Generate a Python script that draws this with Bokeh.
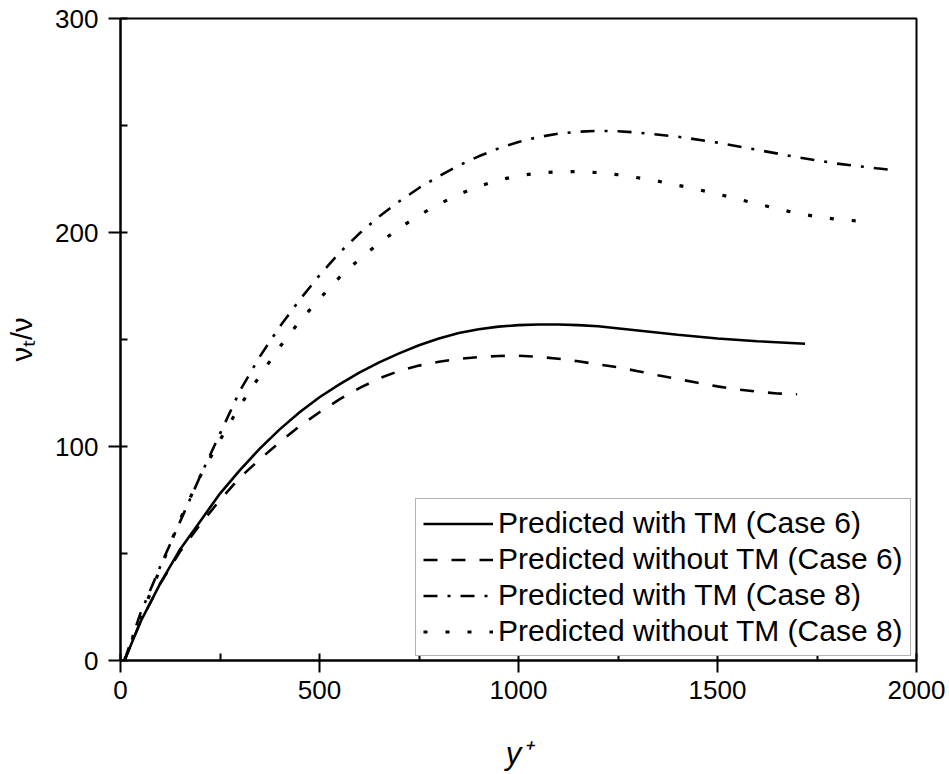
from bokeh.plotting import figure
from bokeh.models import Range1d, SingleIntervalTicker, Legend, LegendItem
from bokeh.embed import file_html
from bokeh.resources import INLINE

# ---- data ----
x_c6_tm = [10, 50, 100, 150, 200, 250, 300, 350, 400, 450, 500, 550, 600, 650, 700, 750, 800, 850, 900, 950,
           1000, 1050, 1100, 1150, 1200, 1300, 1400, 1500, 1600, 1720]
y_c6_tm = [0, 18, 36, 52, 65, 78, 89, 99, 108, 116, 123, 129, 134.5, 139.3, 143.5, 147.3, 150.5, 153, 154.8, 156,
           156.7, 157, 157, 156.7, 156.2, 154.2, 152.2, 150.5, 149.2, 148]

x_c6_no = [10, 50, 100, 150, 200, 250, 300, 350, 400, 450, 500, 550, 600, 650, 700, 750, 800, 850, 900, 950,
           1000, 1050, 1100, 1150, 1200, 1250, 1300, 1350, 1400, 1450, 1500, 1550, 1600, 1650, 1700]
y_c6_no = [0, 18, 36, 51, 63.5, 75, 85.5, 94, 102, 109.5, 116, 122, 127.3, 131.8, 135.3, 137.8, 139.6, 140.9, 141.8,
           142.3, 142.4, 141.9, 141, 139.8, 138.4, 137, 135.2, 133.3, 131.5, 129.8, 128.1, 126.7, 125.6, 124.8, 124.4]

x_c8_tm = [10, 50, 100, 150, 200, 250, 300, 350, 400, 450, 500, 550, 600, 650, 700, 750, 800, 850, 900, 950,
           1000, 1050, 1100, 1150, 1200, 1250, 1300, 1400, 1500, 1600, 1700, 1800, 1900, 1950]
y_c8_tm = [0, 22, 44, 65, 86, 106, 126, 142, 156, 168.5, 180, 190.5, 199.5, 207.5, 214.5, 220.8, 226.3, 231.3, 235.6,
           239.3, 242.3, 244.6, 246.2, 247.1, 247.5, 247.3, 246.7, 244.8, 242, 238.6, 235.2, 232.2, 230, 229]

x_c8_no = [10, 50, 100, 150, 200, 250, 300, 350, 400, 450, 500, 550, 600, 650, 700, 750, 800, 850, 900, 950,
           1000, 1050, 1100, 1150, 1200, 1250, 1300, 1350, 1400, 1450, 1500, 1550, 1600, 1650, 1700, 1750, 1800,
           1850, 1885]
y_c8_no = [0, 20, 43, 66, 86, 103, 119, 133, 146.5, 158.5, 169, 179, 187.5, 195, 202, 208, 213.3, 217.8, 221.5, 224.5,
           226.5, 227.8, 228.4, 228.4, 228, 227, 225.6, 224, 222.1, 220.1, 218, 215.7, 213.4, 211.1, 209, 207.4, 206.2,
           205.4, 205]

labels = ["Predicted with TM (Case 6)", "Predicted without TM (Case 6)",
          "Predicted with TM (Case 8)", "Predicted without TM (Case 8)"]
x_title = "y\u207a"
y_title = "\u03bd\u209c/\u03bd"
x_ticks_major = 500
y_ticks_major = 100

FONT = "Liberation Sans"

p = figure(width=949, height=774, output_backend="svg", toolbar_location=None,
           x_range=Range1d(0, 2000), y_range=Range1d(0, 300),
           min_border_left=120, min_border_right=33, min_border_top=18, min_border_bottom=114)
p.background_fill_color = "white"
p.border_fill_color = "white"
p.grid.visible = False
p.outline_line_color = "black"
p.outline_line_width = 2

p.xaxis.ticker = SingleIntervalTicker(interval=x_ticks_major, num_minor_ticks=2)
p.yaxis.ticker = SingleIntervalTicker(interval=y_ticks_major, num_minor_ticks=2)
for ax in (p.xaxis[0], p.yaxis[0]):
    ax.axis_line_width = 2
    ax.axis_line_color = "black"
    ax.major_tick_line_width = 2
    ax.minor_tick_line_width = 2
    ax.major_tick_out = 12
    ax.major_tick_in = 0
    ax.minor_tick_out = 0
    ax.minor_tick_in = 7
    ax.major_label_text_font = FONT
    ax.major_label_text_font_size = "26px"
    ax.major_label_text_color = "black"
    ax.major_label_standoff = 8
    ax.axis_label_text_font = FONT
    ax.axis_label_text_color = "black"
p.yaxis.major_label_standoff = 10

p.xaxis.axis_label = x_title
p.xaxis.axis_label_text_font_size = "31px"
p.xaxis.axis_label_text_font_style = "italic"
p.xaxis.axis_label_standoff = 34

p.yaxis.axis_label = y_title
p.yaxis.axis_label_text_font_size = "29px"
p.yaxis.axis_label_text_font_style = "normal"
p.yaxis.axis_label_standoff = 14

lw = 2.6
r1 = p.line(x_c6_tm, y_c6_tm, line_color="black", line_width=lw)
r2 = p.line(x_c6_no, y_c6_no, line_color="black", line_width=lw, line_dash="14 14")
r3 = p.line(x_c8_tm, y_c8_tm, line_color="black", line_width=lw, line_dash="14 10 3 10")
r4 = p.line(x_c8_no, y_c8_no, line_color="black", line_width=3.2, line_dash="4 18")

legend = Legend(items=[LegendItem(label=labels[0], renderers=[r1]),
                       LegendItem(label=labels[1], renderers=[r2]),
                       LegendItem(label=labels[2], renderers=[r3]),
                       LegendItem(label=labels[3], renderers=[r4])],
                location=(295, 4))
legend.label_text_font = FONT
legend.label_text_font_size = "30px"
legend.label_text_color = "black"
legend.glyph_width = 70
legend.glyph_height = 33
legend.label_height = 33
legend.spacing = 2
legend.padding = 7
legend.margin = 0
legend.label_standoff = 5
legend.border_line_color = "#666666"
legend.border_line_width = 1
legend.background_fill_alpha = 1
p.add_layout(legend)

open("out.html", "w").write(file_html(p, INLINE))
